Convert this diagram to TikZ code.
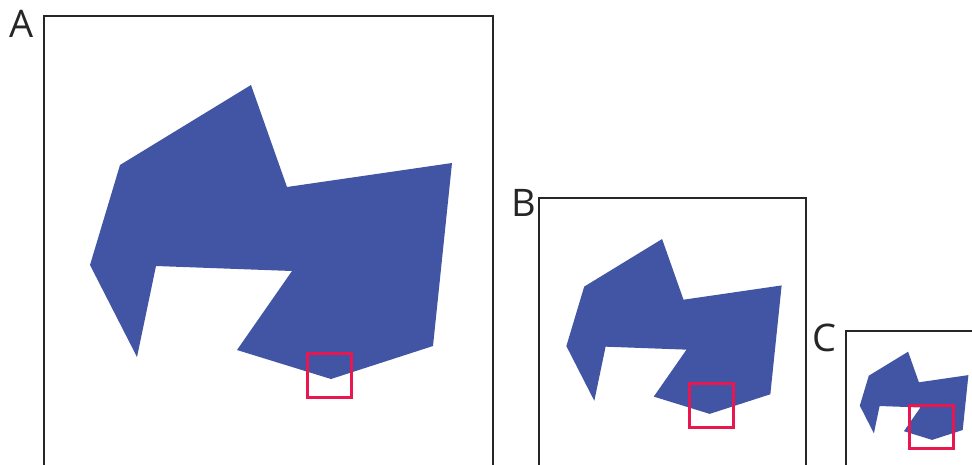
\documentclass[tikz,border=0pt]{standalone}
\usepackage{fontspec}
\setmainfont{Open Sans}
\usepackage{tikz}
\definecolor{blobblue}{HTML}{4155A4}
\definecolor{zoomred}{HTML}{E8174F}
\tikzset{panel/.style={draw=black!85, line width=2pt},
  blob/.style={fill=blobblue},
  zoombox/.style={draw=zoomred, line width=3pt},
  tag/.style={anchor=base west, inner sep=0pt, font=\fontsize{38}{40}\selectfont, text=black!85}}
% the shape, in the frame of its panel (top left corner at the origin)
\newcommand{\blobshape}{%
  \fill[blob] (76,149) -- (207,69) -- (243,171) -- (408,147) -- (389,330)
    -- (287,363) -- (193,334) -- (248,255) -- (112,250) -- (93,341)
    -- (46,249) -- cycle;
  \draw[panel] (0,700) -- (0,0) -- (449,0) -- (449,700);}

\begin{document}
\begin{tikzpicture}[x=1pt, y=-1pt]
  \useasboundingbox (0,0) rectangle (972,464);
  \clip (0,0) rectangle (972,464);
  % panel A
  \begin{scope}[shift={(44,16)}]
    \blobshape
  \end{scope}
  \node[tag] (labA) at (9,37) {A};
  \draw[zoombox] (307.5,353) rectangle ++(44,44);
  % panel B
  \begin{scope}[shift={(539,198)}, scale=0.5947]
    \blobshape
  \end{scope}
  \node[tag] (labB) at (511,216.5) {B};
  \draw[zoombox] (689.5,383.5) rectangle ++(44,44);
  % panel C
  \begin{scope}[shift={(846,331)}, scale=0.30]
    \blobshape
  \end{scope}
  \node[tag] (labC) at (812,351.5) {C};
  \draw[zoombox] (909,405) rectangle ++(44,43);
\end{tikzpicture}
\end{document}
